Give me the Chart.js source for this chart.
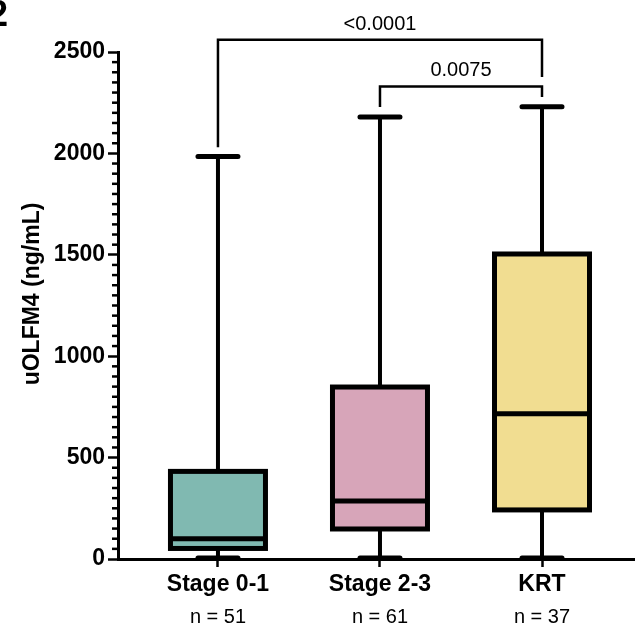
<!DOCTYPE html>
<html lang="en">
<head>
<meta charset="UTF-8">
<title>uOLFM4 by stage</title>
<script src="https://cdn.jsdelivr.net/npm/chart.js@4.4.1/dist/chart.umd.min.js"></script>
<style>
  body { margin: 0; background: #fff; }
  canvas { display: block; }
</style>
</head>
<body>
<canvas id="boxChart" width="635" height="627"></canvas>
<script>
// data
var categories = ['Stage 0-1', 'Stage 2-3', 'KRT'];
var nCounts = [51, 61, 37];
var minVals = [5, 5, 5];
var q1Vals = [52, 148, 242];
var medianVals = [100, 286, 716];
var q3Vals = [432, 848, 1504];
var maxVals = [1985, 2180, 2230];
var boxColors = ['#80b9b1', '#d7a5b9', '#f1dd91'];
var yTicks = [0, 500, 1000, 1500, 2000, 2500];

// comparisons: [from, to, label]
var comparisons = [[0, 2, '<0.0001'], [1, 2, '0.0075']];

var FONT = '"Liberation Sans", Arial, Helvetica, sans-serif';

// bracket heights in data units (annotation layout)
var bracketLevels = [
  { top: 2560, legFrom: 2030, legTo: 2377 },
  { top: 2330, legFrom: 2229, legTo: 2278 }
];

var boxPlugin = {
  id: 'boxPlugin',
  afterDraw: function (chart) {
    var ctx = chart.ctx;
    var xs = chart.scales.x;
    var ys = chart.scales.y;
    var half = 47.5;
    ctx.save();

    // minor ticks on y axis
    ctx.strokeStyle = '#000';
    ctx.lineWidth = 2.5;
    for (var v = 50; v < 2500; v += 50) {
      if (v % 500 === 0) continue;
      var py = ys.getPixelForValue(v);
      ctx.beginPath();
      ctx.moveTo(xs.left - 6, py);
      ctx.lineTo(xs.left, py);
      ctx.stroke();
    }

    for (var i = 0; i < categories.length; i++) {
      var cx = xs.getPixelForValue(i);
      var pMin = ys.getPixelForValue(minVals[i]);
      var pQ1 = ys.getPixelForValue(q1Vals[i]);
      var pMed = ys.getPixelForValue(medianVals[i]);
      var pQ3 = ys.getPixelForValue(q3Vals[i]);
      var pMax = ys.getPixelForValue(maxVals[i]);

      // whiskers
      ctx.lineCap = 'butt';
      ctx.lineWidth = 4;
      ctx.beginPath();
      ctx.moveTo(cx, pQ3); ctx.lineTo(cx, pMax);
      ctx.moveTo(cx, pQ1); ctx.lineTo(cx, pMin);
      ctx.stroke();

      // caps
      ctx.lineCap = 'round';
      ctx.lineWidth = 5;
      ctx.beginPath();
      ctx.moveTo(cx - 20, pMax); ctx.lineTo(cx + 20, pMax);
      ctx.moveTo(cx - 20, pMin); ctx.lineTo(cx + 20, pMin);
      ctx.stroke();

      // box outline and median
      ctx.lineCap = 'butt';
      ctx.lineJoin = 'miter';
      ctx.lineWidth = 5;
      ctx.strokeRect(cx - half, pQ3, half * 2, pQ1 - pQ3);
      ctx.beginPath();
      ctx.moveTo(cx - half, pMed); ctx.lineTo(cx + half, pMed);
      ctx.stroke();

      // n labels
      ctx.fillStyle = '#000';
      ctx.font = '20px ' + FONT;
      ctx.textAlign = 'center';
      ctx.textBaseline = 'middle';
      ctx.fillText('n = ' + nCounts[i], cx, 617);
    }

    // significance brackets
    ctx.lineWidth = 2.5;
    ctx.lineCap = 'butt';
    comparisons.forEach(function (c, k) {
      var lv = bracketLevels[k];
      var x1 = xs.getPixelForValue(c[0]);
      var x2 = xs.getPixelForValue(c[1]);
      var yTop = ys.getPixelForValue(lv.top);
      ctx.beginPath();
      ctx.moveTo(x1, ys.getPixelForValue(lv.legFrom));
      ctx.lineTo(x1, yTop);
      ctx.lineTo(x2, yTop);
      ctx.lineTo(x2, ys.getPixelForValue(lv.legTo));
      ctx.stroke();
      ctx.font = '20px ' + FONT;
      ctx.textAlign = 'center';
      ctx.textBaseline = 'alphabetic';
      ctx.fillText(c[2], (x1 + x2) / 2, yTop - 10);
    });

    // y axis title
    ctx.save();
    ctx.translate(33, 294);
    ctx.rotate(-Math.PI / 2);
    ctx.font = 'bold 23px ' + FONT;
    ctx.textAlign = 'center';
    ctx.textBaseline = 'middle';
    ctx.fillText('uOLFM4 (ng/mL)', 0, 0);
    ctx.restore();

    // panel label (cut off at the edge)
    ctx.font = 'bold 36px ' + FONT;
    ctx.textAlign = 'right';
    ctx.textBaseline = 'alphabetic';
    ctx.fillText('2', 8, 26);

    ctx.restore();
  }
};

var boxData = categories.map(function (c, i) {
  return { x: i, y: [q1Vals[i], q3Vals[i]] };
});

new Chart(document.getElementById('boxChart'), {
  type: 'bar',
  data: {
    datasets: [{
      data: boxData,
      backgroundColor: boxColors,
      borderWidth: 0,
      barThickness: 95
    }]
  },
  options: {
    responsive: false,
    animation: false,
    layout: { padding: { top: 52, left: 0, right: 0, bottom: 0 } },
    plugins: {
      legend: { display: false },
      tooltip: { enabled: false }
    },
    scales: {
      x: {
        type: 'linear',
        min: -0.617,
        max: 2.574,
        offset: false,
        afterBuildTicks: function (scale) {
          scale.ticks = categories.map(function (c, i) { return { value: i }; });
        },
        afterFit: function (scale) { scale.height = 68; },
        ticks: {
          color: '#000',
          font: { family: FONT, size: 23, weight: 'bold' },
          padding: 4,
          maxRotation: 0,
          autoSkip: false,
          callback: function (v) { return categories[v]; }
        },
        grid: {
          offset: false,
          drawOnChartArea: false,
          tickLength: 8,
          tickWidth: 2.5,
          tickColor: '#000'
        },
        border: { color: '#000', width: 3 }
      },
      y: {
        min: 0,
        max: 2500,
        afterBuildTicks: function (scale) {
          scale.ticks = yTicks.map(function (v) { return { value: v }; });
        },
        afterFit: function (scale) { scale.width = 118; },
        ticks: {
          color: '#000',
          font: { family: FONT, size: 23, weight: 'bold' },
          padding: 3,
          callback: function (v) { return String(v); }
        },
        grid: {
          drawOnChartArea: false,
          tickLength: 10,
          tickWidth: 2.5,
          tickColor: '#000'
        },
        border: { color: '#000', width: 3 }
      }
    }
  },
  plugins: [boxPlugin]
});
</script>
</body>
</html>
